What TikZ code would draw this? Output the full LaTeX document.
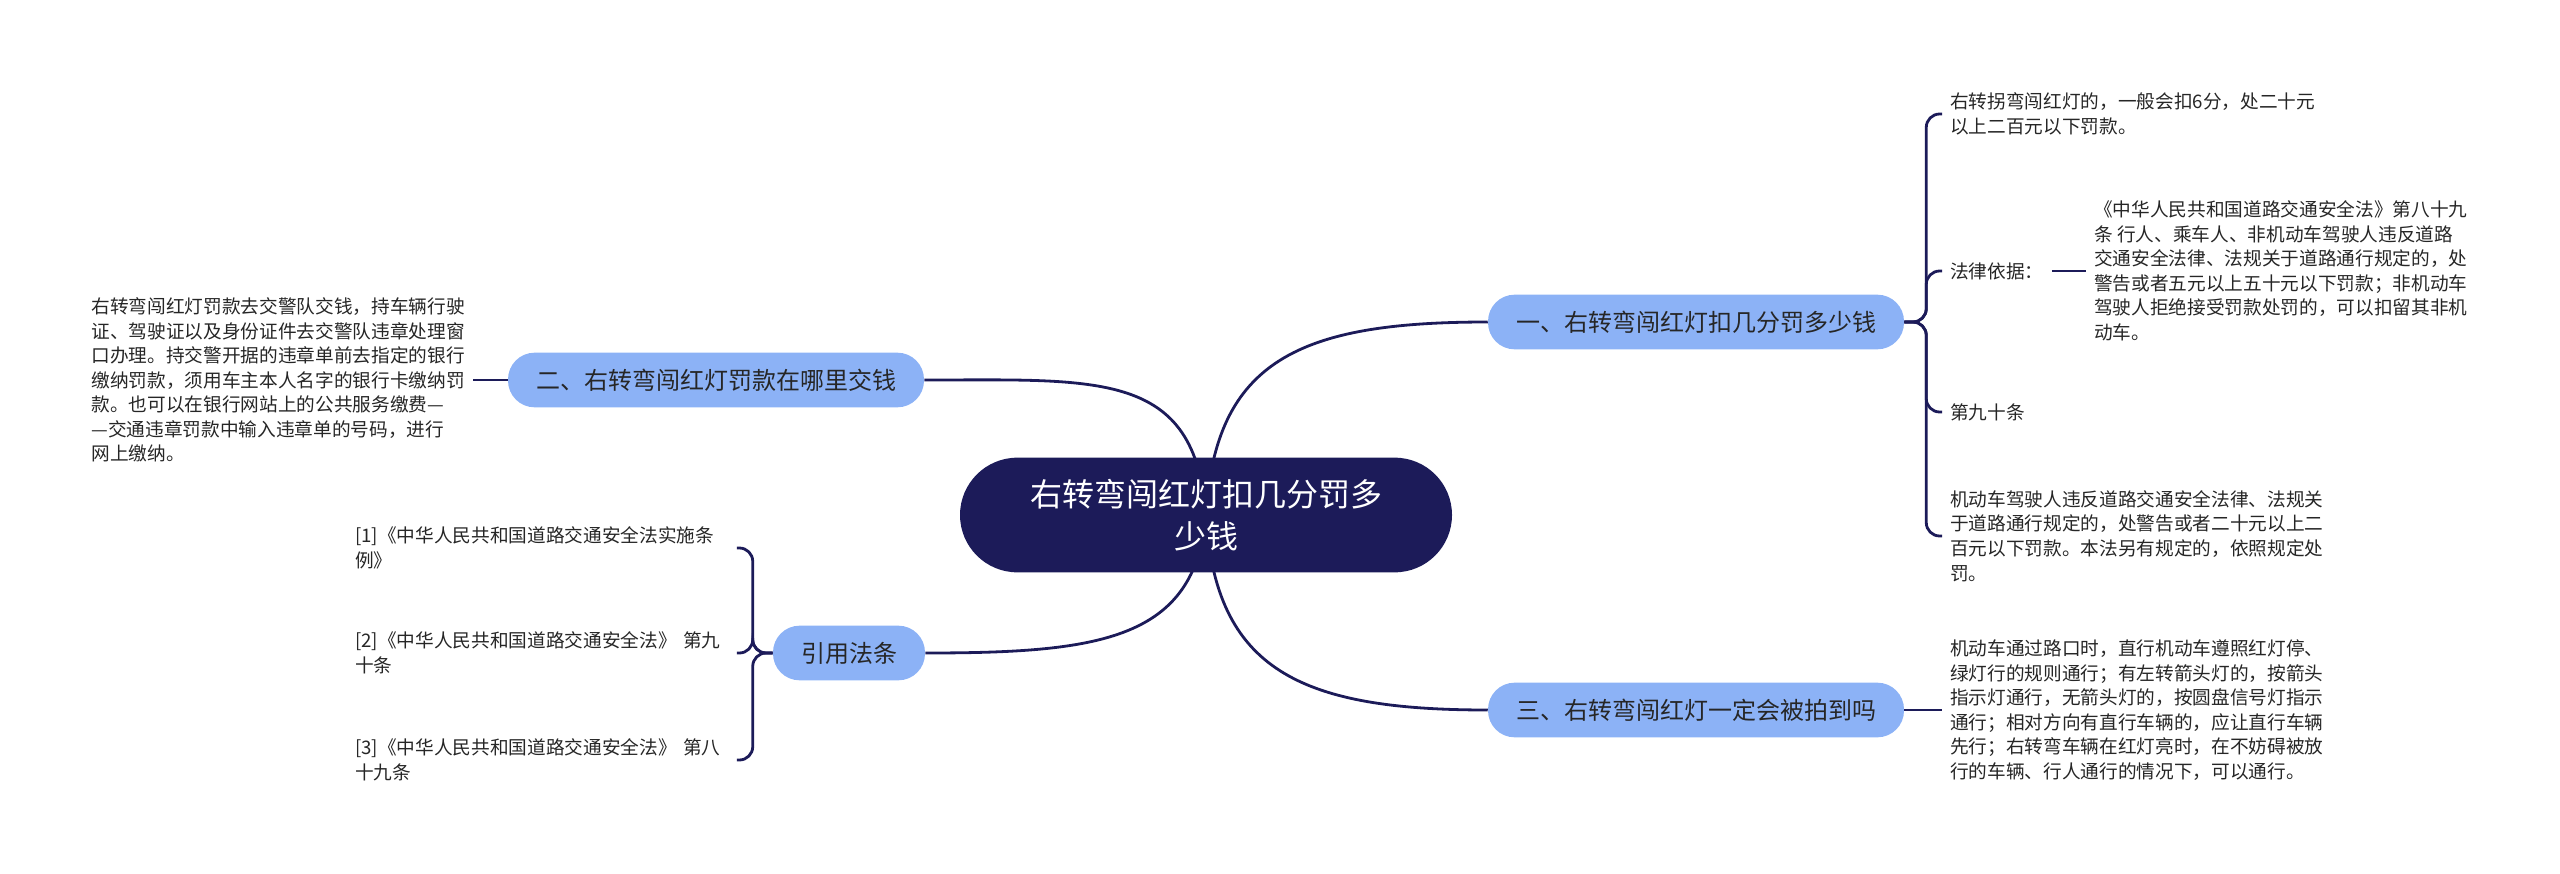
\documentclass[tikz,border=0pt]{standalone}
\usepackage{fontspec}
\setmainfont{Noto Sans CJK SC}
\usepackage{tikz}
\usetikzlibrary{backgrounds}
\definecolor{mapnavy}{RGB}{28,27,89}
\definecolor{mapblue}{RGB}{140,178,246}
\definecolor{maptext}{RGB}{38,38,38}

\begin{document}
\begin{tikzpicture}[
  x=0.75pt, y=-0.75pt,
  root/.style={fill=mapnavy, text=white, rounded corners=43pt, minimum height=86pt, minimum width=369pt, align=center, font=\fontsize{24}{32}\selectfont},
  branch/.style={fill=mapblue, text=maptext, rounded corners=20pt, minimum height=41pt, inner xsep=21pt, font=\fontsize{18}{22}\selectfont},
  leaf/.style={text=maptext, align=left, inner xsep=6pt, inner ysep=2pt, font=\fontsize{14}{18.4}\selectfont},
  link/.style={draw=mapnavy, line width=2.1pt},
  bracket/.style={link, rounded corners=10pt}
]
\useasboundingbox (0,0) rectangle (2560,874);

\node[root] (ctr) at (1206,515) {右转弯闯红灯扣几分罚多\\少钱};

\node[branch] (b1) at (1696,322) {一、右转弯闯红灯扣几分罚多少钱};
\node[branch] (b2) at (716,380) {二、右转弯闯红灯罚款在哪里交钱};
\node[branch] (b3) at (1696,710) {三、右转弯闯红灯一定会被拍到吗};
\node[branch] (b4) at (849,653) {引用法条};

% right side leaves
\node[leaf, anchor=west] (l1a) at (1942,114) {右转拐弯闯红灯的，一般会扣6分，处二十元\\以上二百元以下罚款。};
\node[leaf, anchor=west] (l1b) at (1942,271) {法律依据：};
\node[leaf, anchor=west] (l1e) at (2086,271) {《中华人民共和国道路交通安全法》第八十九\\条 行人、乘车人、非机动车驾驶人违反道路\\交通安全法律、法规关于道路通行规定的，处\\警告或者五元以上五十元以下罚款；非机动车\\驾驶人拒绝接受罚款处罚的，可以扣留其非机\\动车。};
\node[leaf, anchor=west] (l1c) at (1942,412) {第九十条};
\node[leaf, anchor=west] (l1d) at (1942,536) {机动车驾驶人违反道路交通安全法律、法规关\\于道路通行规定的，处警告或者二十元以上二\\百元以下罚款。本法另有规定的，依照规定处\\罚。};
\node[leaf, anchor=west] (l3a) at (1942,710) {机动车通过路口时，直行机动车遵照红灯停、\\绿灯行的规则通行；有左转箭头灯的，按箭头\\指示灯通行，无箭头灯的，按圆盘信号灯指示\\通行；相对方向有直行车辆的，应让直行车辆\\先行；右转弯车辆在红灯亮时，在不妨碍被放\\行的车辆、行人通行的情况下，可以通行。};

% left side leaves
\node[leaf, anchor=east] (l2a) at (473,380) {右转弯闯红灯罚款去交警队交钱，持车辆行驶\\证、驾驶证以及身份证件去交警队违章处理窗\\口办理。持交警开据的违章单前去指定的银行\\缴纳罚款，须用车主本人名字的银行卡缴纳罚\\款。也可以在银行网站上的公共服务缴费—\\—交通违章罚款中输入违章单的号码，进行\\网上缴纳。};
\node[leaf, anchor=west, text width=280pt] (l41) at (347,548) {[1]《中华人民共和国道路交通安全法实施条\\例》};
\node[leaf, anchor=west, text width=280pt] (l42) at (347,653) {[2]《中华人民共和国道路交通安全法》 第九\\十条};
\node[leaf, anchor=west, text width=280pt] (l43) at (347,760) {[3]《中华人民共和国道路交通安全法》 第八\\十九条};

\begin{pgfonlayer}{background}
\draw[link] (ctr.center) .. controls (1215,360) and (1300,322) .. (b1.west);
\draw[link] (ctr.center) .. controls (1215,670) and (1300,710) .. (b3.west);
\draw[link] (ctr.center) .. controls (1195,370) and (1100,380) .. (b2.east);
\draw[link] (ctr.center) .. controls (1195,640) and (1100,653) .. (b4.east);
\end{pgfonlayer}

\draw[bracket] (b1.east) -- ++(22,0) |- (l1a.west);
\draw[bracket] (b1.east) -- ++(22,0) |- (l1b.west);
\draw[bracket] (b1.east) -- ++(22,0) |- (l1c.west);
\draw[bracket] (b1.east) -- ++(22,0) |- (l1d.west);
\draw[link] (l1b.east) -- (l1e.west);
\draw[link] (b3.east) -- (l3a.west);
\draw[link] (b2.west) -- (l2a.east);
\draw[bracket] (b4.west) -- ++(-20,0) |- (l41.east);
\draw[bracket] (b4.west) -- ++(-20,0) |- (l42.east);
\draw[bracket] (b4.west) -- ++(-20,0) |- (l43.east);
\end{tikzpicture}
\end{document}
